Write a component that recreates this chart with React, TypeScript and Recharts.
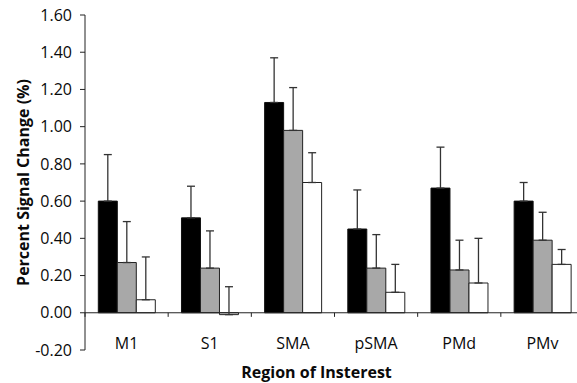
import React from "react";
import {
  BarChart,
  Bar,
  XAxis,
  YAxis,
  ErrorBar,
  ReferenceLine,
  Label,
} from "recharts";

const regions = ["M1", "S1", "SMA", "pSMA", "PMd", "PMv"];
const blackMeans = [0.6, 0.51, 1.13, 0.45, 0.67, 0.6];
const grayMeans = [0.27, 0.24, 0.98, 0.24, 0.23, 0.39];
const whiteMeans = [0.07, -0.01, 0.7, 0.11, 0.16, 0.26];
// upper error only (lower half not drawn in the original)
const blackErr = [0.25, 0.17, 0.24, 0.21, 0.22, 0.1];
const grayErr = [0.22, 0.2, 0.23, 0.18, 0.16, 0.15];
const whiteErr = [0.23, 0.15, 0.16, 0.15, 0.24, 0.08];
const yTicks = [-0.2, 0, 0.2, 0.4, 0.6, 0.8, 1.0, 1.2, 1.4, 1.6];

const data = regions.map((region, i) => ({
  region,
  black: blackMeans[i],
  gray: grayMeans[i],
  white: whiteMeans[i],
  blackErr: [0, blackErr[i]],
  grayErr: [0, grayErr[i]],
  whiteErr: [0, whiteErr[i]],
}));

const FONT = "'Open Sans', sans-serif";

const RegionTick = (props: any) => {
  const { x, y, payload } = props;
  return (
    <text
      x={x}
      y={y - 7}
      textAnchor="middle"
      dominantBaseline="central"
      fontSize={16}
      fontFamily={FONT}
      fill="#0a0a0a"
    >
      {payload.value}
    </text>
  );
};

export default function App() {
  return (
    <div
      style={{
        position: "absolute",
        left: 0,
        top: 0,
        width: 577,
        height: 383,
        overflow: "hidden",
        background: "#fff",
      }}
    >
      <BarChart
        width={600}
        height={383}
        data={data}
        margin={{ top: 15, right: 16, left: 0, bottom: 3 }}
        barCategoryGap="16%"
        barGap={0}
      >
        <XAxis
          dataKey="region"
          height={30}
          axisLine={false}
          tickLine={false}
          tickSize={0}
          tickMargin={0}
          tick={<RegionTick />}
          interval={0}
        >
          <Label
            value="Region of Insterest"
            position="insideBottom"
            offset={2}
            dx={-18}
            style={{ fontFamily: FONT, fontSize: 16, fontWeight: 700, fill: "#0a0a0a" }}
          />
        </XAxis>
        <YAxis
          width={85}
          domain={[-0.2, 1.6]}
          ticks={yTicks}
          interval={0}
          tickFormatter={(v: number) => v.toFixed(2)}
          axisLine={{ stroke: "#222" }}
          tickLine={{ stroke: "#222" }}
          tickSize={5}
          tickMargin={8}
          tick={{ fill: "#0a0a0a", fontSize: 16, fontFamily: FONT }}
        >
          <Label
            value="Percent Signal Change (%)"
            angle={-90}
            position="insideLeft"
            offset={23}
            style={{
              textAnchor: "middle",
              fontFamily: FONT,
              fontSize: 16,
              fontWeight: 700,
              fill: "#0a0a0a",
            }}
          />
        </YAxis>
        <ReferenceLine y={0} stroke="#222" strokeWidth={1} />
        {regions.map((r) => (
          <ReferenceLine
            key={r}
            segment={[
              { x: r, y: 0 },
              { x: r, y: -0.022 },
            ]}
            position="start"
            stroke="#222"
          />
        ))}
        <Bar dataKey="black" fill="#000" stroke="#111" strokeWidth={1} isAnimationActive={false}>
          <ErrorBar dataKey="blackErr" width={4} stroke="#333" strokeWidth={1.3} direction="y" />
        </Bar>
        <Bar dataKey="gray" fill="#a8a8a8" stroke="#222" strokeWidth={1} isAnimationActive={false}>
          <ErrorBar dataKey="grayErr" width={4} stroke="#333" strokeWidth={1.3} direction="y" />
        </Bar>
        <Bar dataKey="white" fill="#fff" stroke="#222" strokeWidth={1} isAnimationActive={false}>
          <ErrorBar dataKey="whiteErr" width={4} stroke="#333" strokeWidth={1.3} direction="y" />
        </Bar>
      </BarChart>
    </div>
  );
}
